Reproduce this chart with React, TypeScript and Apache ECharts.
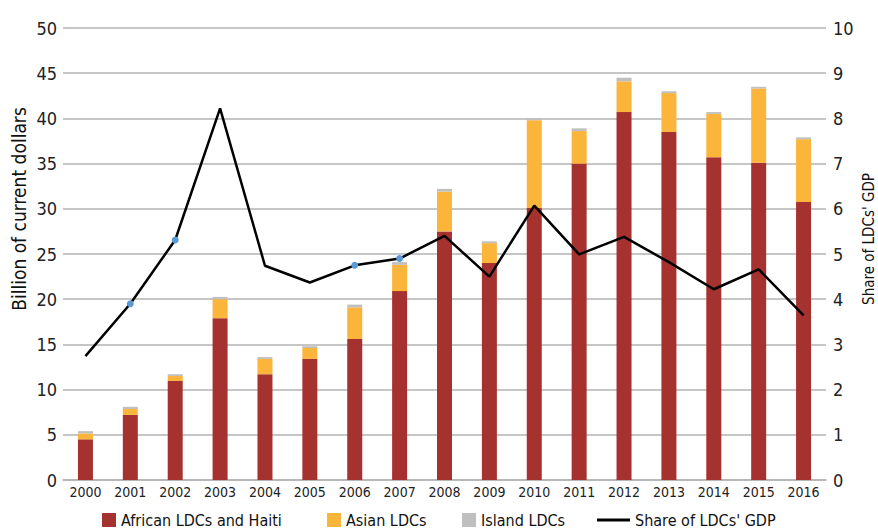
import React, { useEffect, useRef } from "react";
import * as echarts from "echarts";

const years = ["2000","2001","2002","2003","2004","2005","2006","2007","2008","2009","2010","2011","2012","2013","2014","2015","2016"];
const african = [4.5, 7.2, 10.95, 17.9, 11.7, 13.4, 15.6, 20.9, 27.5, 24.0, 30.1, 35.0, 40.7, 38.5, 35.7, 35.1, 30.75];
const asian = [0.65, 0.65, 0.55, 2.1, 1.7, 1.2, 3.5, 2.9, 4.4, 2.2, 9.7, 3.6, 3.4, 4.3, 4.8, 8.2, 6.95];
const island = [0.25, 0.25, 0.2, 0.25, 0.2, 0.2, 0.3, 0.3, 0.3, 0.2, 0.2, 0.3, 0.4, 0.2, 0.2, 0.2, 0.2];
const share = [2.74, 3.9, 5.31, 8.22, 4.74, 4.37, 4.75, 4.9, 5.4, 4.5, 6.07, 4.99, 5.38, 4.82, 4.22, 4.66, 3.64];
const markedYears = ["2001", "2002", "2006", "2007"];
const seriesNames = ["African LDCs and Haiti", "Asian LDCs", "Island LDCs", "Share of LDCs' GDP"];

const FONT = "'DejaVu Sans Condensed', 'Liberation Sans Narrow', 'Roboto', sans-serif";
const RED = "#a6322f";
const ORANGE = "#fbb53b";
const GREY = "#bfbfbf";

export default function App() {
  const ref = useRef<HTMLDivElement>(null);
  useEffect(() => {
    if (!ref.current) return;
    const chart = echarts.init(ref.current, null, { renderer: "svg" });
    const lineData = share.map((v, i) =>
      markedYears.includes(years[i])
        ? { value: v, symbol: "circle", symbolSize: 7, itemStyle: { color: "#5b9bd5" } }
        : { value: v, symbol: "none" }
    );
    const legendLefts = [102, 327, 462, 597];
    const legendText = { fontFamily: FONT, fontSize: 16, color: "#111" };
    const legends = seriesNames.map((name, i) => ({
      left: legendLefts[i],
      top: 512,
      padding: 0,
      itemWidth: i === 3 ? 33 : 14,
      itemHeight: i === 3 ? 3 : 14,
      icon: "rect",
      textStyle: i === 3 ? { ...legendText, padding: [0, 0, 0, 0] } : legendText,
      data: [i === 3 ? { name, itemStyle: { color: "#000" } } : name],
    }));
    chart.setOption({
      animation: false,
      textStyle: { fontFamily: FONT },
      grid: { left: 63, right: 52, top: 28, bottom: 48 },
      legend: legends,
      xAxis: {
        type: "category",
        data: years,
        axisLine: { lineStyle: { color: "#b3b3b3", width: 1.5 } },
        axisTick: { show: false },
        axisLabel: { fontFamily: FONT, fontSize: 14, color: "#222", margin: 5 },
      },
      yAxis: [
        {
          type: "value",
          min: 0,
          max: 50,
          interval: 5,
          axisLine: { show: false },
          axisTick: { show: false },
          splitLine: { lineStyle: { color: "#b3b3b3", width: 1.5 } },
          axisLabel: { fontFamily: FONT, fontSize: 18, color: "#222", margin: 6 },
        },
        {
          type: "value",
          min: 0,
          max: 10,
          interval: 1,
          axisLine: { show: false },
          axisTick: { show: false },
          splitLine: { show: false },
          axisLabel: { fontFamily: FONT, fontSize: 18, color: "#222", margin: 7 },
        },
      ],
      graphic: [
        {
          type: "text",
          x: 19,
          y: 209,
          rotation: Math.PI / 2,
          style: {
            text: "Billion of current dollars",
            fontFamily: FONT,
            fontSize: 19,
            fill: "#111",
            align: "center",
            verticalAlign: "middle",
          },
        },
        {
          type: "text",
          x: 869,
          y: 239,
          rotation: Math.PI / 2,
          style: {
            text: "Share of LDCs' GDP",
            fontFamily: FONT,
            fontSize: 15,
            fill: "#111",
            align: "center",
            verticalAlign: "middle",
          },
        },
      ],
      series: [
        { name: seriesNames[0], type: "bar", stack: "t", barWidth: 15, data: african, itemStyle: { color: RED } },
        { name: seriesNames[1], type: "bar", stack: "t", barWidth: 15, data: asian, itemStyle: { color: ORANGE } },
        { name: seriesNames[2], type: "bar", stack: "t", barWidth: 15, data: island, itemStyle: { color: GREY } },
        {
          name: seriesNames[3],
          type: "line",
          yAxisIndex: 1,
          data: lineData,
          showSymbol: true,
          showAllSymbol: true,
          lineStyle: { color: "#000", width: 2.5 },
          itemStyle: { color: "#000" },
          z: 5,
        },
      ],
    });
    return () => chart.dispose();
  }, []);
  return <div ref={ref} style={{ width: 878, height: 528, position: "absolute", left: 0, top: 0 }} />;
}
